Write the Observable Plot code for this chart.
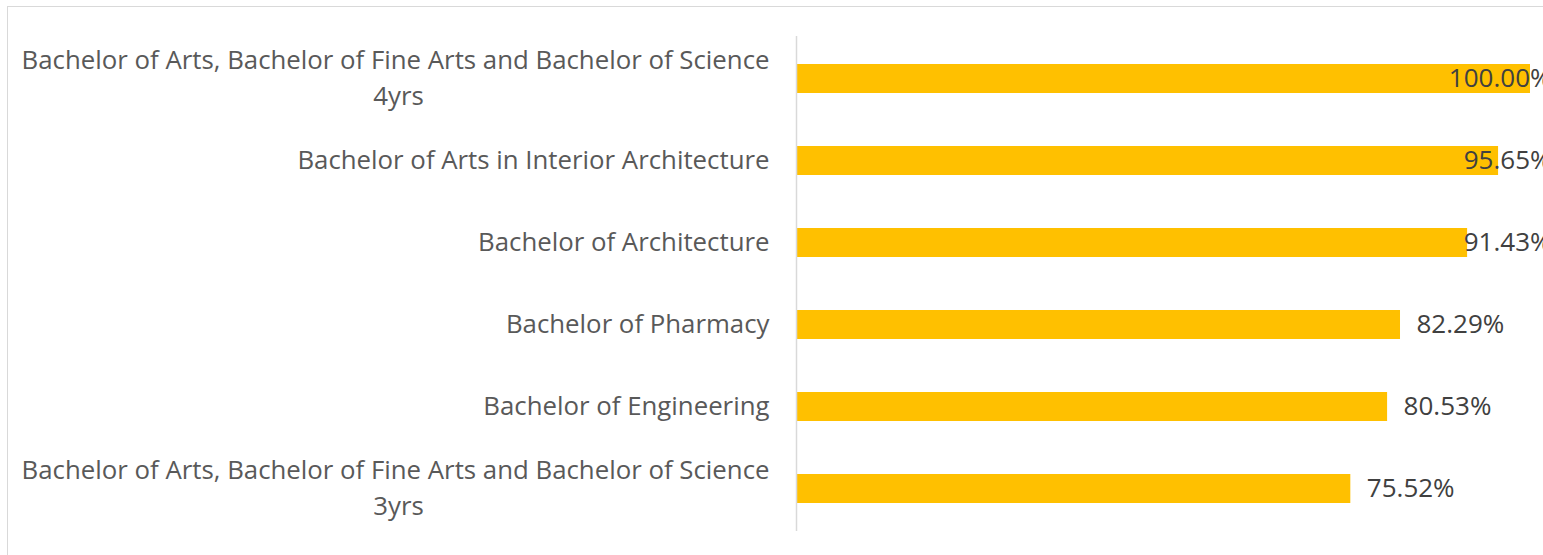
<!DOCTYPE html>
<html><head><meta charset="utf-8">
<script src="https://cdn.jsdelivr.net/npm/d3@7"></script>
<script src="https://cdn.jsdelivr.net/npm/@observablehq/plot@0.6"></script>
<style>
html,body{margin:0;padding:0;background:#fff;overflow:hidden;width:1543px;height:555px;}
#border{position:absolute;left:7px;top:6px;width:2000px;height:1000px;border:1.5px solid #d9d9d9;}
#chart{position:absolute;left:0;top:0;}
#chart svg{font-family:"Open Sans","Noto Sans",sans-serif;}
</style></head>
<body><div id="border"></div><div id="chart"></div>
<script>
// Categories, top to bottom
const categoryKeys = ["BA BFA BSc 4yrs", "BA Interior Architecture", "B Architecture", "B Pharmacy", "B Engineering", "BA BFA BSc 3yrs"];
const categoryLine1 = [
  "Bachelor of Arts, Bachelor of Fine Arts and Bachelor of Science",
  "Bachelor of Arts in Interior Architecture",
  "Bachelor of Architecture",
  "Bachelor of Pharmacy",
  "Bachelor of Engineering",
  "Bachelor of Arts, Bachelor of Fine Arts and Bachelor of Science"
];
const categoryLine2 = ["4yrs", "", "", "", "", "3yrs"];
const values = [100.00, 95.65, 91.43, 82.29, 80.53, 75.52];

const data = categoryKeys.map((k, i) => ({
  key: k, line1: categoryLine1[i], line2: categoryLine2[i], value: values[i],
  label: values[i].toFixed(2) + "%"
}));
const single = data.filter(d => !d.line2);
const multi = data.filter(d => d.line2);

const catStyle = {fontSize: 25.8, fill: "#595959", frameAnchor: "left"};
const valStyle = {fontSize: 26, fill: "#404040"};

const chart = Plot.plot({
  width: 1543, height: 555,
  marginLeft: 796, marginRight: 13, marginTop: 36, marginBottom: 24,
  x: {domain: [0, 100], axis: null},
  y: {domain: categoryKeys, paddingInner: 0.648, paddingOuter: 0.324, axis: null},
  marks: [
    Plot.barX(data, {x: "value", y: "key", fill: "#FFC000"}),
    Plot.ruleX([0], {stroke: "#d9d9d9", strokeWidth: 1.5}),
    Plot.text(single, {y: "key", text: "line1", textAnchor: "end", dx: -27, ...catStyle}),
    Plot.text(multi, {y: "key", text: "line1", textAnchor: "end", dx: -27, dy: -18, ...catStyle}),
    Plot.text(multi, {y: "key", text: "line2", textAnchor: "middle", dx: -398, dy: 18, ...catStyle}),
    Plot.text(data.filter(d => d.value < 90), {x: "value", y: "key", text: "label", textAnchor: "start", dx: 16, ...valStyle}),
    Plot.text(data.filter(d => d.value >= 90), {y: "key", text: "label", frameAnchor: "right", textAnchor: "end", dx: 21, ...valStyle})
  ]
});
document.getElementById("chart").appendChild(chart);
</script>
</body></html>
